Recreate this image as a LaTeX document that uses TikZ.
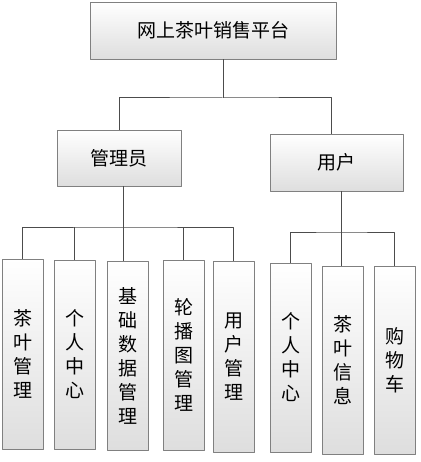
\documentclass[tikz,border=0pt]{standalone}
\usepackage{fontspec}
\setmainfont{Noto Sans CJK SC}
\usetikzlibrary{shadows}
\begin{document}
\begin{tikzpicture}[x=1pt,y=-1pt,line join=round,
  box/.style={draw=black!50,line width=0.8pt,top color=white,bottom color=black!13,
    drop shadow={shadow xshift=1.3pt,shadow yshift=-1.3pt,opacity=.3},
    inner sep=0pt,align=center,font=\fontsize{19}{24}\selectfont},
  col/.style={box,minimum width=41pt},
  link/.style={draw=black!70,line width=1pt}]
\useasboundingbox (0,0) rectangle (420,462);
\node[box,minimum width=246pt,minimum height=57pt] (top) at (213,30.5) {网上茶叶销售平台};
\node[box,minimum width=124pt,minimum height=56pt] (admin) at (119,158) {管理员};
\node[box,minimum width=133pt,minimum height=57pt] (user) at (336.5,162.5) {用户};
% admin side
\node[col,minimum height=190pt] (c1) at (22.5,354) {茶\\叶\\管\\理};
\node[col,minimum height=189pt] (c2) at (74.5,354.5) {个\\人\\中\\心};
\node[col,minimum height=189pt] (c3) at (127.5,355.5) {基\\础\\数\\据\\管\\理};
\node[col,minimum height=190pt] (c4) at (183.5,355) {轮\\播\\图\\管\\理};
\node[col,minimum height=191pt] (c5) at (233.5,356.5) {用\\户\\管\\理};
% user side
\node[col,minimum height=189pt] (c6) at (290.5,357.5) {个\\人\\中\\心};
\node[col,minimum height=188pt] (c7) at (342.5,360) {茶\\叶\\信\\息};
\node[col,minimum height=188pt] (c8) at (394.5,360) {购\\物\\车};
% links
\coordinate (jtop) at (223,98);
\coordinate (juser) at (331,98);
\draw[link] (top.south -| jtop) -- (jtop);
\draw[link] (admin.north) |- (jtop) -- (juser) -- (user.north -| juser);
\coordinate (busA) at (123,227);
\draw[link] (admin.south -| busA) -- (busA);
\draw[link] (c1.north) |- (busA) -| (c5.north);
\draw[link] (c3.north -| busA) -- (busA);
\foreach \n in {c2,c4} \draw[link] (\n.north) -- (\n.north |- busA);
\coordinate (busU) at (341,232);
\draw[link] (user.south -| busU) -- (busU);
\draw[link] (c6.north) |- (busU) -| (c8.north);
\draw[link] (c7.north -| busU) -- (busU);
\end{tikzpicture}
\end{document}
